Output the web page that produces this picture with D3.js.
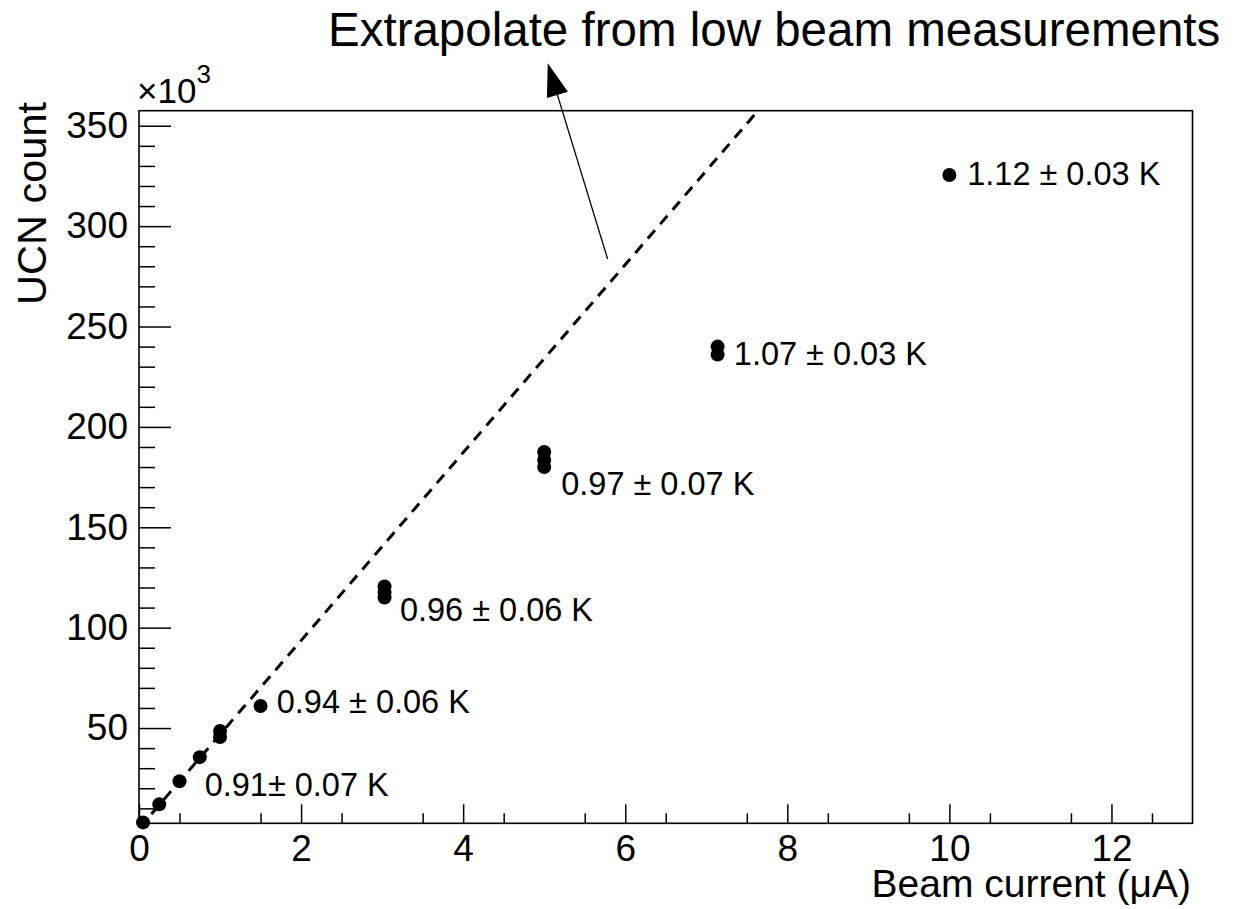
<!DOCTYPE html>
<html lang="en">
<head>
<meta charset="utf-8">
<title>UCN count vs beam current</title>
<script src="https://cdn.jsdelivr.net/npm/d3@7"></script>
<style>
  body { margin: 0; background: #fff; }
  svg text { font-family: "Liberation Sans", Arial, sans-serif; fill: #000; }
</style>
</head>
<body>
<script>
// measured points (beam current in uA, UCN count in 10^3)
var current = [0.05, 0.25, 0.5, 0.75, 1.0, 1.0, 1.5, 3.03, 3.03, 3.03, 5.0, 5.0, 5.0, 7.14, 7.14, 10.0];
var ucn     = [3, 12, 23.5, 35.5, 45.5, 48.5, 61, 120.5, 117.5, 115, 187.5, 183.5, 180, 240, 236, 325.5];

// temperature labels, anchored at the text start (data units)
var labelText = ["0.91\u00b1 0.07 K", "0.94 \u00b1 0.06 K", "0.96 \u00b1 0.06 K", "0.97 \u00b1 0.07 K", "1.07 \u00b1 0.03 K", "1.12 \u00b1 0.03 K"];
var labelX = [0.81, 1.70, 3.22, 5.21, 7.34, 10.22];
var labelY = [15.9, 57.5, 103.1, 166.2, 230.9, 320.5];

// extrapolation from low beam points
var fitSlope = 46.8;

var xMajor = [0, 2, 4, 6, 8, 10, 12];
var yMajor = [50, 100, 150, 200, 250, 300, 350];

var w = 1248, h = 909;
var padL = 139, padR = 1192.5, padT = 110.7, padB = 823.3;

var x = d3.scaleLinear().domain([0, 13]).range([padL, padR]);
var y = d3.scaleLinear().domain([2.55, 357.5]).range([padB, padT]);

var svg = d3.select("body").append("svg")
  .attr("width", w)
  .attr("height", h);

svg.append("defs").append("clipPath").attr("id", "plot")
  .append("rect")
  .attr("x", padL).attr("y", padT)
  .attr("width", padR - padL).attr("height", padB - padT);

// y axis: ticks point inward
var yMinor = d3.range(10, 351, 10).filter(function(v) { return v % 50 != 0; });
svg.append("g")
  .attr("transform", "translate(" + padL + ",0)")
  .call(d3.axisLeft(y).tickValues(yMinor).tickSize(-16).tickFormat(""))
  .call(function(g) { g.select(".domain").remove(); });
var gy = svg.append("g")
  .attr("transform", "translate(" + padL + ",0)")
  .call(d3.axisLeft(y).tickValues(yMajor).tickSize(-32).tickPadding(11).tickFormat(d3.format("d")))
  .call(function(g) { g.select(".domain").remove(); });
gy.selectAll("text").style("font-size", "37px");

// x axis
var xMinor = d3.range(0.5, 13, 1);
svg.append("g")
  .attr("transform", "translate(0," + padB + ")")
  .call(d3.axisBottom(x).tickValues(xMinor).tickSize(-10).tickFormat(""))
  .call(function(g) { g.select(".domain").remove(); });
var gx = svg.append("g")
  .attr("transform", "translate(0," + padB + ")")
  .call(d3.axisBottom(x).tickValues(xMajor).tickSize(-19).tickFormat(d3.format("d")))
  .call(function(g) { g.select(".domain").remove(); });
gx.selectAll("text").style("font-size", "37px").attr("y", 38).attr("dy", null);

svg.selectAll(".tick line").attr("stroke", "#000").attr("stroke-width", 1.5);

// frame
svg.append("rect")
  .attr("x", padL).attr("y", padT)
  .attr("width", padR - padL).attr("height", padB - padT)
  .attr("fill", "none").attr("stroke", "#000").attr("stroke-width", 1.6);

// dashed extrapolation line
var xEnd = y.domain()[1] / fitSlope;
svg.append("line")
  .attr("clip-path", "url(#plot)")
  .attr("x1", x(0)).attr("y1", y(0))
  .attr("x2", x(xEnd)).attr("y2", y(fitSlope * xEnd))
  .attr("stroke", "#000").attr("stroke-width", 3)
  .attr("stroke-dasharray", "11 8");

// points
svg.selectAll("circle.pt")
  .data(current)
  .enter()
  .append("circle")
  .attr("class", "pt")
  .attr("cx", function(d) { return x(d); })
  .attr("cy", function(d, i) { return y(ucn[i]); })
  .attr("r", 7)
  .attr("fill", "#000");

// temperature labels
svg.selectAll("text.lab")
  .data(labelText)
  .enter()
  .append("text")
  .attr("class", "lab")
  .attr("x", function(d, i) { return x(labelX[i]); })
  .attr("y", function(d, i) { return y(labelY[i]); })
  .style("font-size", "32.5px")
  .text(function(d) { return d; });

// axis titles
svg.append("text")
  .attr("text-anchor", "end")
  .attr("transform", "translate(46,102) rotate(-90)")
  .style("font-size", "41.5px")
  .text("UCN count");

svg.append("text")
  .attr("text-anchor", "end")
  .attr("x", 1191).attr("y", 897)
  .style("font-size", "39px")
  .text("Beam current (\u03bcA)");

// x10^3 multiplier
var mult = svg.append("text").attr("x", 137).attr("y", 103).style("font-size", "35px");
mult.append("tspan").text("\u00d710");
mult.append("tspan").attr("dy", -20).style("font-size", "26px").text("3");

// annotation: arrow and caption
var ax0 = x(5.783), ay0 = y(283.6), ax1 = x(5.044), ay1 = y(381.1);
var dx = ax1 - ax0, dy = ay1 - ay0, len = Math.sqrt(dx * dx + dy * dy);
var ux = dx / len, uy = dy / len;
var bx = ax1 - 33 * ux, by = ay1 - 33 * uy;
svg.append("line")
  .attr("x1", ax0).attr("y1", ay0)
  .attr("x2", bx).attr("y2", by)
  .attr("stroke", "#000").attr("stroke-width", 1.3);
svg.append("path")
  .attr("d", "M" + ax1 + "," + ay1 +
             "L" + (bx - 11 * uy) + "," + (by + 11 * ux) +
             "L" + (bx + 11 * uy) + "," + (by - 11 * ux) + "Z")
  .attr("fill", "#000");

svg.append("text")
  .attr("x", 328).attr("y", 46)
  .style("font-size", "47.5px")
  .text("Extrapolate from low beam measurements");
</script>
</body>
</html>
